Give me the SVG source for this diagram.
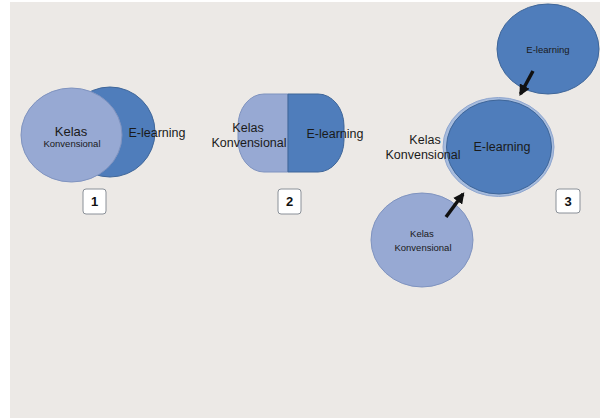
<svg xmlns="http://www.w3.org/2000/svg" width="600" height="418" viewBox="0 0 600 418">
<defs>
<style>
.bg{fill:#ECE9E6}
.light{fill:#97A9D3;stroke:#7F93BF;stroke-width:1}
.dark{fill:#4F7DBB;stroke:#3F6699;stroke-width:1}
.t{font-family:"Liberation Sans",Arial,sans-serif;fill:#1a1a1a;text-anchor:middle}
.lbl{fill:#ffffff;stroke:#8A9098;stroke-width:1}
.num{font-family:"Liberation Sans",Arial,sans-serif;font-weight:bold;font-size:13px;fill:#111;text-anchor:middle}
.arrow{stroke:#111;stroke-width:3.5;fill:none;marker-end:url(#ah)}
</style>
<marker id="ah" viewBox="0 0 10 10" refX="8" refY="5" markerWidth="3.2" markerHeight="3.2" orient="auto" markerUnits="strokeWidth">
<path d="M0,0 L10,5 L0,10 z" fill="#111"/>
</marker>
</defs>
<rect x="0" y="0" width="600" height="418" fill="#ffffff"/>
<rect class="bg" x="10" y="2" width="590" height="416"/>

<g id="d1-elearning">
<ellipse class="dark" cx="110" cy="132" rx="45" ry="45"/>
<text class="t" x="157" y="137" font-size="12.5">E-learning</text>
</g>
<g id="d1-kelas">
<ellipse class="light" cx="71.5" cy="135" rx="50.5" ry="47"/>
<text class="t" x="71" y="136" font-size="13">Kelas</text>
<text class="t" x="72" y="147" font-size="9.5">Konvensional</text>
</g>
<g id="label1">
<rect class="lbl" x="83" y="189" width="23" height="25" rx="3"/>
<text class="num" x="94.5" y="206">1</text>
</g>

<g id="d2-kelas">
<path class="light" d="M288,94 L264,94 A26,32 0 0 0 238,126 L238,140 A26,32 0 0 0 264,172 L288,172 Z"/>
<text class="t" x="248" y="132" font-size="12.5">Kelas</text>
<text class="t" x="249" y="147" font-size="12.5">Konvensional</text>
</g>
<g id="d2-elearning">
<path class="dark" d="M288,94 L318,94 A26,32 0 0 1 344,126 L344,140 A26,32 0 0 1 318,172 L288,172 Z"/>
<text class="t" x="335" y="138" font-size="12.5">E-learning</text>
</g>
<g id="label2">
<rect class="lbl" x="278" y="189" width="23" height="25" rx="3"/>
<text class="num" x="289.5" y="206">2</text>
</g>

<g id="d3-top">
<ellipse class="dark" cx="548" cy="49" rx="51" ry="45"/>
<text class="t" x="548" y="53" font-size="9.5">E-learning</text>
</g>
<g id="d3-center">
<ellipse cx="498.5" cy="147" rx="55.5" ry="49.5" fill="#A7BCDD" stroke="#8FA6CF" stroke-width="1"/>
<ellipse class="dark" cx="499" cy="147" rx="52.5" ry="47"/>
<text class="t" x="502" y="151" font-size="12.5">E-learning</text>
</g>
<g id="d3-kelas-text">
<text class="t" x="425" y="144" font-size="12.5">Kelas</text>
<text class="t" x="423" y="159" font-size="12.5">Konvensional</text>
</g>
<g id="d3-bottom">
<ellipse class="light" cx="422" cy="240" rx="51" ry="47"/>
<text class="t" x="422" y="237" font-size="9.5">Kelas</text>
<text class="t" x="423" y="251" font-size="9.5">Konvensional</text>
</g>
<g id="label3">
<rect class="lbl" x="556" y="189" width="24" height="24" rx="3"/>
<text class="num" x="568" y="206">3</text>
</g>

<g id="connectors">
<line class="arrow" x1="533" y1="71" x2="520.5" y2="94"/>
<line class="arrow" x1="446" y1="217" x2="463" y2="194"/>
</g>
</svg>
